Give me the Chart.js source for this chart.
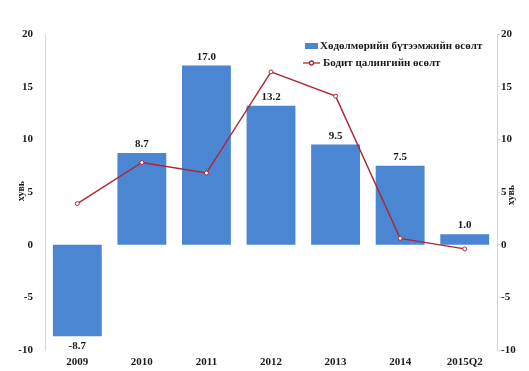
<!DOCTYPE html>
<html>
<head>
<meta charset="utf-8">
<script src="https://cdn.jsdelivr.net/npm/chart.js@4/dist/chart.umd.min.js"></script>
<style>
  html, body { margin: 0; padding: 0; background: #ffffff; }
  #wrap { width: 529px; height: 371px; position: relative; }
</style>
</head>
<body>
<div id="wrap"><canvas id="c" width="529" height="371"></canvas></div>
<script>
// Categories and series
const years = ['2009', '2010', '2011', '2012', '2013', '2014', '2015Q2'];
const productivityGrowth = [-8.7, 8.7, 17.0, 13.2, 9.5, 7.5, 1.0];
const realWageGrowth = [3.9, 7.8, 6.8, 16.4, 14.1, 0.6, -0.4];
const barLabel = 'Хөдөлмөрийн бүтээмжийн өсөлт';
const lineLabel = 'Бодит цалингийн өсөлт';
const axisTitle = 'хувь';

const FONT = "'Liberation Serif', 'Times New Roman', serif";
const BAR_COLOR = 'rgb(74,134,210)';
const LINE_COLOR = 'rgb(172,38,52)';
const TEXT_COLOR = '#1a1a1a';

// Value labels above (or below) each bar
const barValueLabels = {
  id: 'barValueLabels',
  afterDatasetsDraw(chart) {
    const ctx = chart.ctx;
    const idx = chart.data.datasets.findIndex(d => d.type === 'bar');
    const meta = chart.getDatasetMeta(idx);
    ctx.save();
    ctx.font = 'bold 11px ' + FONT;
    ctx.fillStyle = TEXT_COLOR;
    ctx.textAlign = 'center';
    meta.data.forEach((bar, i) => {
      const v = productivityGrowth[i];
      const txt = v.toFixed(1);
      if (v >= 0) {
        ctx.textBaseline = 'bottom';
        ctx.fillText(txt, bar.x, bar.y - 3);
      } else {
        ctx.textBaseline = 'top';
        ctx.fillText(txt, bar.x, bar.y + 4);
      }
    });
    ctx.restore();
  }
};

// Legend box inside the plot and rotated axis titles
const decorations = {
  id: 'decorations',
  afterDraw(chart) {
    const ctx = chart.ctx;
    ctx.save();
    // legend
    ctx.font = 'bold 11px ' + FONT;
    ctx.textBaseline = 'middle';
    ctx.textAlign = 'left';
    ctx.fillStyle = BAR_COLOR;
    ctx.fillRect(305, 43, 13, 6);
    ctx.fillStyle = TEXT_COLOR;
    ctx.fillText(barLabel, 320, 46);
    ctx.strokeStyle = LINE_COLOR;
    ctx.lineWidth = 1.3;
    ctx.beginPath();
    ctx.moveTo(303, 63);
    ctx.lineTo(320, 63);
    ctx.stroke();
    ctx.beginPath();
    ctx.arc(311.5, 63, 2, 0, Math.PI * 2);
    ctx.fillStyle = '#fff';
    ctx.fill();
    ctx.stroke();
    ctx.fillStyle = TEXT_COLOR;
    ctx.fillText(lineLabel, 323, 63);
    // axis titles
    ctx.font = 'bold 10px ' + FONT;
    ctx.textAlign = 'center';
    [[21, 191], [511, 195]].forEach(([x, y]) => {
      ctx.save();
      ctx.translate(x, y);
      ctx.rotate(-Math.PI / 2);
      ctx.fillText(axisTitle, 0, 0);
      ctx.restore();
    });
    ctx.restore();
  }
};

new Chart(document.getElementById('c'), {
  data: {
    labels: years,
    datasets: [
      {
        type: 'line',
        label: lineLabel,
        data: realWageGrowth,
        borderColor: LINE_COLOR,
        borderWidth: 1.4,
        pointRadius: 2,
        pointBackgroundColor: '#fff',
        pointBorderColor: LINE_COLOR,
        pointBorderWidth: 1,
        tension: 0,
        yAxisID: 'y',
        order: 0
      },
      {
        type: 'bar',
        label: barLabel,
        data: productivityGrowth,
        backgroundColor: BAR_COLOR,
        barPercentage: 0.86,
        categoryPercentage: 0.88,
        yAxisID: 'y',
        order: 1
      }
    ]
  },
  options: {
    responsive: false,
    animation: false,
    devicePixelRatio: 1,
    layout: { padding: { top: 34, bottom: 0, left: 0, right: 0 } },
    plugins: {
      legend: { display: false },
      tooltip: { enabled: false },
      title: { display: false }
    },
    scales: {
      x: {
        grid: { display: false, drawTicks: false },
        border: { display: false },
        ticks: {
          color: TEXT_COLOR,
          font: { family: FONT, size: 11, weight: 'bold' },
          padding: 6,
          maxRotation: 0
        },
        afterFit(scale) { scale.height = 21; }
      },
      y: {
        position: 'left',
        min: -10, max: 20,
        grid: { display: false, drawTicks: false },
        border: { display: true, color: 'rgba(190,205,225,0.8)', width: 1 },
        ticks: {
          stepSize: 5,
          color: TEXT_COLOR,
          font: { family: FONT, size: 11, weight: 'bold' },
          padding: 12
        },
        afterFit(scale) { scale.width = 45; }
      },
      y2: {
        position: 'right',
        min: -10, max: 20,
        grid: { display: true, drawOnChartArea: false, drawTicks: true, tickLength: 3, color: 'rgba(190,205,225,0.8)' },
        border: { display: true, color: 'rgba(190,205,225,0.8)', width: 1 },
        ticks: {
          stepSize: 5,
          color: TEXT_COLOR,
          font: { family: FONT, size: 11, weight: 'bold' },
          padding: 1
        },
        afterFit(scale) { scale.width = 32; }
      }
    }
  },
  plugins: [barValueLabels, decorations]
});
</script>
</body>
</html>
